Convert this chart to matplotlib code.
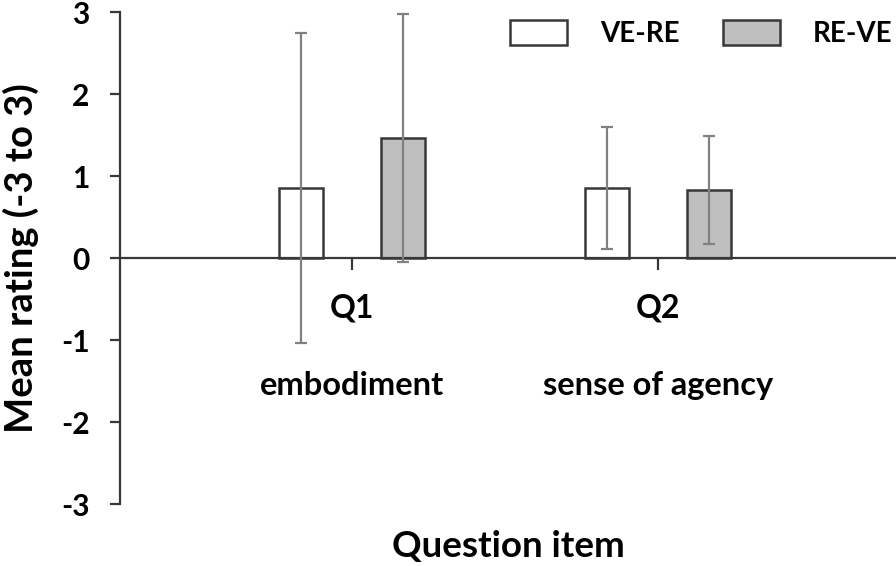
import matplotlib
matplotlib.use("Agg")
import matplotlib.pyplot as plt
import numpy as np

plt.rcParams['font.family'] = ['Lato', 'DejaVu Sans']

# data
items = ["Q1", "Q2"]
item_names = ["embodiment", "sense of agency"]
groups = ["VE-RE", "RE-VE"]
means = {"VE-RE": [0.85, 0.85], "RE-VE": [1.46, 0.83]}
errs = {"VE-RE": [1.89, 0.745], "RE-VE": [1.51, 0.66]}
colors = {"VE-RE": "white", "RE-VE": "#bfbfbf"}
yticks = [-3, -2, -1, 0, 1, 2, 3]

fig = plt.figure(figsize=(8.96, 5.66), dpi=100)
ax = fig.add_axes([120 / 896, 62 / 566, 776 / 896, 492 / 566])

x = np.arange(len(items))
width = 0.145
offset = 0.167
for i, g in enumerate(groups):
    pos = x + (i * 2 - 1) * offset
    ax.bar(pos, means[g], width, color=colors[g], edgecolor="#383838",
           linewidth=1.8, label=g, zorder=2)
    ax.errorbar(pos, means[g], yerr=errs[g], fmt="none", ecolor="#808080",
                elinewidth=1.6, capsize=4.5, capthick=1.6, zorder=3)

ax.set_xlim(-0.758, 1.778)
ax.set_ylim(-3, 3)
ax.set_yticks(yticks)
ax.set_yticklabels([str(t) for t in yticks], fontsize=21.5, fontweight="bold")
ax.set_xticks(x)
ax.set_xticklabels([])

for s in ["top", "right"]:
    ax.spines[s].set_visible(False)
ax.spines["bottom"].set_position(("data", 0))
for s in ["left", "bottom"]:
    ax.spines[s].set_color("#383838")
    ax.spines[s].set_linewidth(1.6)
ax.tick_params(axis="y", direction="out", length=7, width=1.6, color="#383838", pad=15)
ax.tick_params(axis="x", direction="out", length=8.5, width=1.6, color="#383838")

for xi, q, name in zip(x, items, item_names):
    ax.text(xi, -0.61, q, ha="center", va="center", fontsize=23, fontweight="bold")
    ax.text(xi, -1.55, name, ha="center", va="center", fontsize=23.5, fontweight="bold")

ax.set_ylabel("Mean rating (-3 to 3)", fontsize=27.5, fontweight="bold")
ax.yaxis.set_label_coords(-0.128, 0.5)
ax.yaxis.label.set_va("center")
ax.set_xlabel("Question item", fontsize=26.5, fontweight="bold")
ax.xaxis.set_label_coords(0.5, -0.087)
ax.xaxis.label.set_va("center")

leg = ax.legend(ncol=2, loc="upper left", bbox_to_anchor=(510 / 896, 1 - 20 / 566),
                bbox_transform=fig.transFigure, frameon=False,
                prop={"weight": "bold", "size": 20}, borderaxespad=0, borderpad=0,
                handlelength=2.05, handleheight=1.0, handletextpad=1.19,
                columnspacing=1.55)

fig.savefig("out.png", dpi=100)
